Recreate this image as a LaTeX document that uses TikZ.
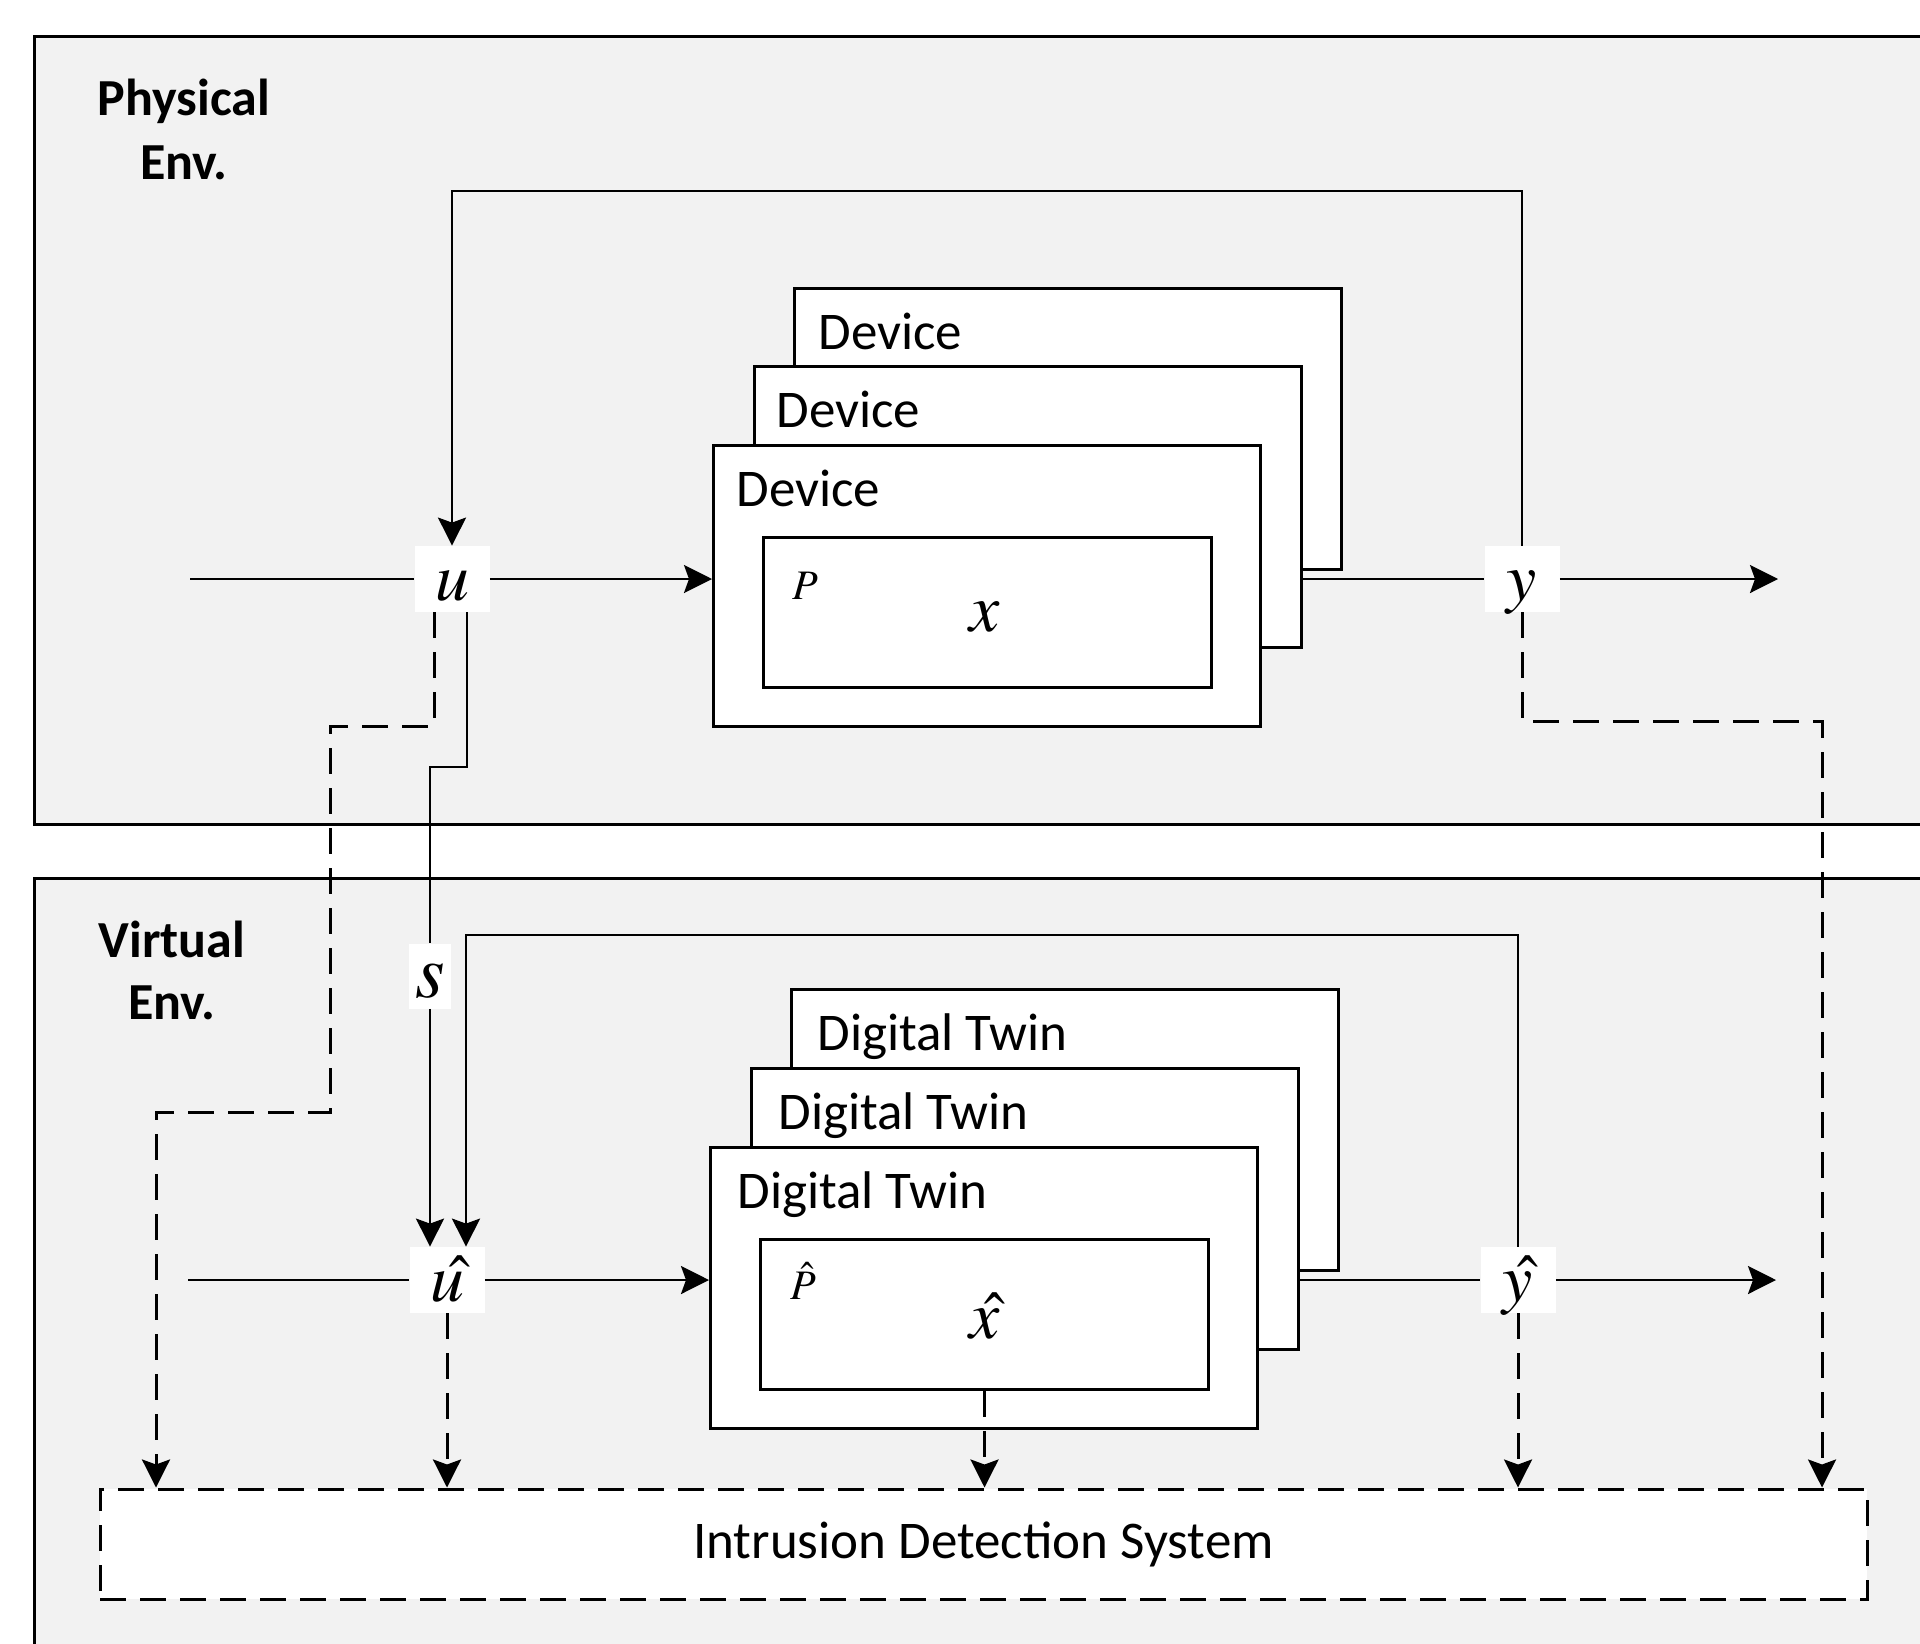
\documentclass[tikz,border=0pt]{standalone}
\usepackage{mathptmx}
\usepackage[no-math]{fontspec}
\setmainfont{Carlito}
\usetikzlibrary{arrows.meta,calc}
\definecolor{envgray}{HTML}{F2F2F2}
\begin{document}
\begin{tikzpicture}[x=0.5pt,y=-0.5pt,
  envbox/.style={draw=black, line width=1.5pt, fill=envgray},
  devbox/.style={draw=black, line width=1.5pt, fill=white, anchor=north west, inner sep=0pt, minimum width=273.5pt, minimum height=140.5pt},
  innerbox/.style={draw=black, line width=1.5pt, fill=white, anchor=north west, inner sep=0pt, minimum width=224pt, minimum height=75pt},
  conn/.style={line width=1.3pt},
  arr/.style={conn, -{Stealth[length=14pt,width=14pt,inset=2.5pt]}},
  dsh/.style={line width=1.5pt, dash pattern=on 13pt off 7pt},
  dasharr/.style={dsh, -{Stealth[length=14pt,width=14pt,inset=2.5pt]}},
  lbl/.style={fill=white, inner sep=0pt, minimum width=37.5pt, minimum height=33pt, text height=21pt, text depth=0pt, font=\fontsize{34}{40}\selectfont},
  envlabel/.style={font=\fontsize{26}{32}\selectfont\bfseries, anchor=base, inner sep=0pt},
  devlabel/.style={font=\fontsize{26.5}{31}\selectfont, anchor=base west, inner sep=0pt},
  sym/.style={anchor=base, inner sep=0pt, font=\fontsize{34}{40}\selectfont},
  symsmall/.style={anchor=base west, inner sep=0pt, font=\fontsize{21}{25}\selectfont},
]
\useasboundingbox (0,0) rectangle (1920,1643);
\clip (0,0) rectangle (1920,1643);

% environments
\draw[envbox] (34,37) rectangle (1980,824);
\draw[envbox] (34,878) rectangle (1980,1700);
\node[envlabel] (physA) at (184,115) {Physical};
\node[envlabel] (physB) at (184,179) {Env.};
\node[envlabel] (virtA) at (172,957) {Virtual};
\node[envlabel] (virtB) at (172,1019) {Env.};

% device stack
\node[devbox] (dev3) at (793,287) {};
\node[devbox] (dev2) at (753,365) {};
\node[devbox] (dev1) at (712,444) {};
\node[innerbox] (plant) at (762,536) {};
\node[devlabel] (devl3) at ($(dev3.north west)+(25,62)$) {Device};
\node[devlabel] (devl2) at ($(dev2.north west)+(23,62)$) {Device};
\node[devlabel] (devl1) at ($(dev1.north west)+(24,62)$) {Device};
\node[symsmall] (P) at (792,599) {$P$};
\node[sym] (x) at (985,631) {$x$};

% digital twin stack
\node[devbox] (dt3) at (790,988) {};
\node[devbox] (dt2) at (750,1067) {};
\node[devbox] (dt1) at (709,1146) {};
\node[innerbox] (twin) at (759,1238) {};
\node[devlabel] (dtl3) at ($(dt3.north west)+(27,62)$) {Digital Twin};
\node[devlabel] (dtl2) at ($(dt2.north west)+(28,62)$) {Digital Twin};
\node[devlabel] (dtl1) at ($(dt1.north west)+(28,62)$) {Digital Twin};
\node[symsmall] (Ph) at (790,1299) {$\skew{4}\hat{P}$};
\node[sym] (xh) at (985,1338) {$\skew{5}\hat{x}$};

% IDS
\node[draw, dsh, fill=white, minimum width=883.5pt, minimum height=55pt, inner sep=0pt, font=\fontsize{26.5}{31}\selectfont] (ids) at (983.5,1544) {Intrusion Detection System};

% signal labels
\node[lbl] (u) at (452,579) {$u$};
\node[lbl] (y) at (1522,579) {$y$};
\node[lbl, minimum width=21pt, minimum height=32.5pt, font=\fontsize{38}{44}\selectfont] (s) at (430,976) {$s$};
\node[lbl] (uh) at (447,1280) {$\skew{7}\hat{u}$};
\node[lbl] (yh) at (1518,1280) {$\skew{5}\hat{y}$};

% coordinates
\coordinate (pin) at (190,579);
\coordinate (pout) at (1778,579);
\coordinate (vin) at (188,1280);
\coordinate (vout) at (1776,1280);
\coordinate (top1) at (0,191);
\coordinate (top2) at (0,935);
\coordinate (dl1) at (330,726);
\coordinate (dl2) at (156,1112);
\coordinate (sj) at (430,767);
\coordinate (dr) at (1822,721);

% physical connectors
\draw[conn] (pin) -- (u);
\draw[arr] (u) -- (u -| dev1.west);
\draw[conn] (y -| dev2.east) -- (y);
\draw[arr] (y) -- (pout);
\draw[arr] (y.north) -- (y.north |- top1) -| (u.north);
\draw[dasharr] ([xshift=-9pt]u.south) |- (dl1) |- (dl2) -- (dl2 |- ids.north);
\draw[conn] ([xshift=7.5pt]u.south) |- (sj) -- (s.north);
\draw[arr] (s.south) -- (s.south |- uh.north);
\draw[dasharr] (y.south) |- (dr) -- (dr |- ids.north);

% virtual connectors
\draw[conn] (vin) -- (uh);
\draw[arr] (uh) -- (uh -| dt1.west);
\draw[conn] (yh -| dt2.east) -- (yh);
\draw[arr] (yh) -- (vout);
\draw[arr] (yh.north) -- (yh.north |- top2) -| ([xshift=9.5pt]uh.north);
\draw[dasharr] (uh.south) -- (uh.south |- ids.north);
\draw[dasharr] (twin.south) -- (twin.south |- ids.north);
\draw[dasharr] (yh.south) -- (yh.south |- ids.north);
\end{tikzpicture}
\end{document}
